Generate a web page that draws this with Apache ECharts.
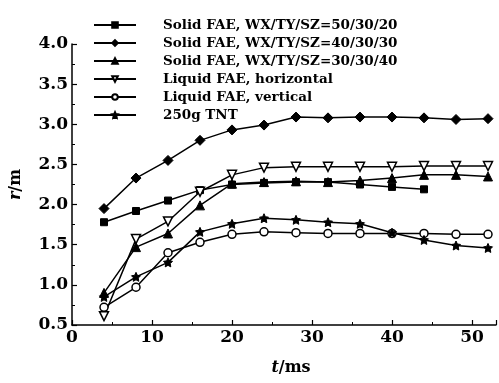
<!DOCTYPE html>
<html>
<head>
<meta charset="utf-8">
<script src="https://cdn.jsdelivr.net/npm/echarts@6/dist/echarts.min.js"></script>
<style>
  html, body { margin: 0; padding: 0; background: #fff; }
  #chart { width: 499px; height: 383px; }
</style>
</head>
<body>
<div id="chart"></div>
<script>
var times = [4, 8, 12, 16, 20, 24, 28, 32, 36, 40, 44, 48, 52];
var names = ['Solid FAE, WX/TY/SZ=50/30/20', 'Solid FAE, WX/TY/SZ=40/30/30', 'Solid FAE, WX/TY/SZ=30/30/40',
    'Liquid FAE, horizontal', 'Liquid FAE, vertical', '250g TNT'];
var solid50 = [1.78, 1.92, 2.05, 2.18, 2.25, 2.27, 2.28, 2.28, 2.25, 2.22, 2.19];
var solid40 = [1.95, 2.33, 2.55, 2.80, 2.93, 2.99, 3.09, 3.08, 3.09, 3.09, 3.08, 3.06, 3.07];
var solid30 = [0.90, 1.47, 1.64, 1.99, 2.26, 2.28, 2.29, 2.28, 2.30, 2.33, 2.37, 2.37, 2.35];
var liquidH = [0.61, 1.57, 1.79, 2.16, 2.37, 2.46, 2.47, 2.47, 2.47, 2.47, 2.48, 2.48, 2.48];
var liquidV = [0.72, 0.97, 1.40, 1.53, 1.63, 1.66, 1.65, 1.64, 1.64, 1.64, 1.64, 1.63, 1.63];
var tnt = [0.85, 1.10, 1.28, 1.66, 1.76, 1.83, 1.81, 1.78, 1.76, 1.65, 1.56, 1.49, 1.46];

function pairs(vals) {
    var out = [];
    for (var i = 0; i < vals.length; i++) out.push([times[i], vals[i]]);
    return out;
}

var font = '"DejaVu Serif", "Liberation Serif", serif';
var dom = document.getElementById('chart');
var myChart = echarts.init(dom);

function line(name, vals, symbol, filled, size, rotate) {
    return {
        name: name,
        type: 'line',
        data: pairs(vals),
        symbol: symbol,
        symbolSize: size,
        symbolRotate: rotate || 0,
        showAllSymbol: true,
        lineStyle: { color: '#000', width: 1.5 },
        itemStyle: filled ? { color: '#000', borderColor: '#000', borderWidth: 1 }
                          : { color: '#fff', borderColor: '#000', borderWidth: 1.5 },
        emphasis: { disabled: true },
        z: 3
    };
}

option = {
    animation: false,
    backgroundColor: '#fff',
    grid: { left: 72, right: 0, top: 44, bottom: 58 },
    legend: {
        orient: 'vertical',
        left: 88,
        top: 13,
        itemWidth: 42,
        itemHeight: 7,
        itemGap: 4,
        data: names,
        textStyle: {
            fontFamily: font, fontWeight: 'bold', fontSize: 13.5, color: '#000',
            padding: [0, 0, 0, 22]
        }
    },
    xAxis: {
        type: 'value',
        min: 0,
        max: 53,
        interval: 10,
        name: '{i|t}/ms',
        nameLocation: 'middle',
        nameGap: 35,
        nameTextStyle: {
            fontFamily: font, fontWeight: 'bold', fontSize: 16, color: '#000',
            padding: [0, 0, 0, 14],
            rich: { i: { fontFamily: font, fontWeight: 'bold', fontStyle: 'italic', fontSize: 16, color: '#000' } }
        },
        axisLine: { lineStyle: { color: '#000', width: 1.5 } },
        axisTick: { inside: true, length: 5, lineStyle: { color: '#000', width: 1.2 } },
        minorTick: { show: true, splitNumber: 2, length: 3, lineStyle: { color: '#000' } },
        splitLine: { show: false },
        axisLabel: {
            fontFamily: font, fontWeight: 'bold', fontSize: 17, color: '#000', margin: 4,
            formatter: function (v) { return v % 10 === 0 ? String(v) : ''; }
        }
    },
    yAxis: {
        type: 'value',
        min: 0.5,
        max: 4.0,
        interval: 0.5,
        name: '{i|r}/m',
        nameLocation: 'middle',
        nameRotate: 90,
        nameGap: 48,
        nameTextStyle: {
            fontFamily: font, fontWeight: 'bold', fontSize: 16, color: '#000',
            rich: { i: { fontFamily: font, fontWeight: 'bold', fontStyle: 'italic', fontSize: 16, color: '#000' } }
        },
        axisLine: { show: true, lineStyle: { color: '#000', width: 1.5 } },
        axisTick: { inside: true, length: 5, lineStyle: { color: '#000', width: 1.2 } },
        minorTick: { show: true, splitNumber: 2, length: 3, lineStyle: { color: '#000' } },
        splitLine: { show: false },
        axisLabel: {
            fontFamily: font, fontWeight: 'bold', fontSize: 17, color: '#000', margin: 4,
            formatter: function (v) { return v.toFixed(1); }
        }
    },
    series: [
        line(names[0], solid50, 'rect', true, 7),
        line(names[1], solid40, 'diamond', true, 10),
        line(names[2], solid30, 'triangle', true, 9),
        line(names[3], liquidH, 'triangle', false, 9, 180),
        line(names[4], liquidV, 'circle', false, 8),
        line(names[5], tnt, 'path://M0,-10 L2.9,-4 L9.5,-3.1 L4.8,1.5 L5.9,8.1 L0,5 L-5.9,8.1 L-4.8,1.5 L-9.5,-3.1 L-2.9,-4 Z', true, 9)
    ]
};
myChart.setOption(option);
</script>
</body>
</html>
